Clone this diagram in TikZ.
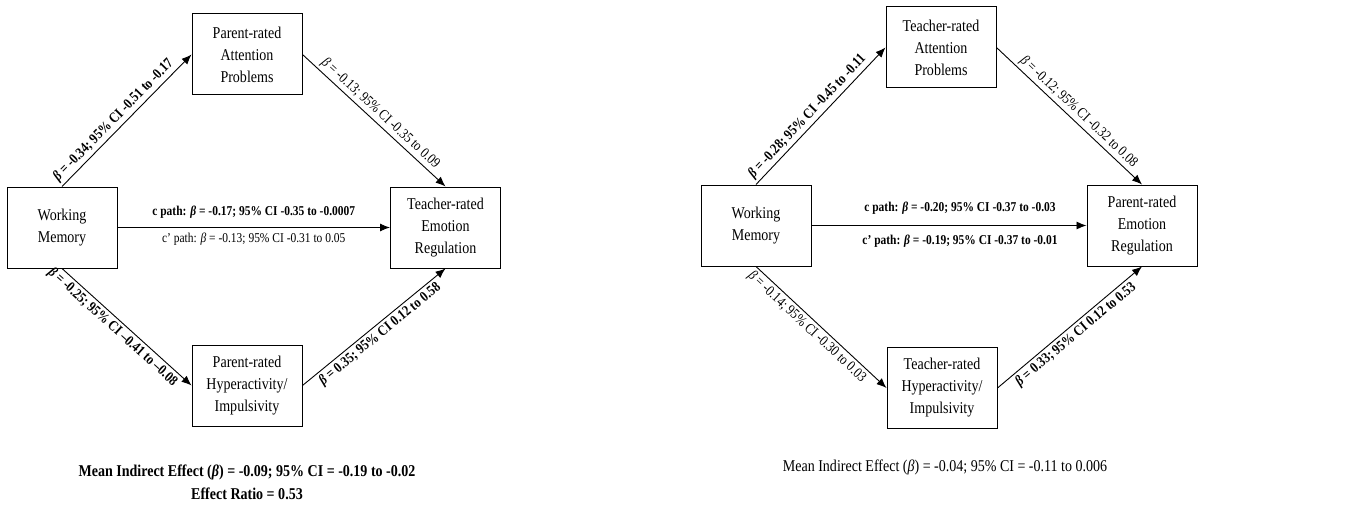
\documentclass[tikz,border=0pt]{standalone}
\usepackage{fontspec}
\setmainfont{Liberation Serif}[FakeStretch=0.85]
\usetikzlibrary{arrows.meta,positioning}

\newcommand{\bt}{\textit{β}}

\begin{document}
\begin{tikzpicture}[x=1pt,y=1pt,on grid,
  box/.style={draw,line width=1pt,minimum width=110pt,minimum height=81pt,align=center,
    font=\fontsize{16.5}{22}\selectfont},
  link/.style={-{Latex[length=10pt,width=8pt]},line width=0.9pt},
  lab/.style={font=\fontsize{14.5}{16}\selectfont,sloped,inner sep=2.5pt},
  hlab/.style={font=\fontsize{13.5}{15}\selectfont,inner sep=0pt},
  note/.style={font=\fontsize{16.5}{22}\selectfont,align=center}]
\useasboundingbox (0,0) rectangle (1360,-508);

% left model
\node[box] (wmL) at (62,-227.5) {Working\\Memory};
\node[box] (paL) [above right=173pt and 185pt of wmL] {Parent-rated\\Attention\\Problems};
\node[box] (terL) [right=383.5pt of wmL] {Teacher-rated\\Emotion\\Regulation};
\node[box] (phL) [below right=158pt and 185pt of wmL] {Parent-rated\\Hyperactivity/\\Impulsivity};
\path[link]
(wmL.north) edge node[lab,above,pos=0.45] {\bfseries\bt\ = -0.34; 95\% CI -0.51 to -0.17} (paL.west)
(paL.east) edge node[lab,above,pos=0.5] {\bt\ = -0.13; 95\% CI -0.35 to 0.09} (terL.north)
(wmL.east) edge node[hlab,above=9pt,midway] {\bfseries c path: \bt\ = -0.17; 95\% CI -0.35 to -0.0007}
                node[hlab,below=5pt,midway] {c’ path: \bt\ = -0.13; 95\% CI -0.31 to 0.05} (terL.west)
(wmL.south) edge node[lab,below,pos=0.44] {\bfseries\bt\ = -0.25; 95\% CI –0.41 to –0.08} (phL.west)
(phL.east) edge node[lab,below,pos=0.5] {\bfseries\bt\ = 0.35; 95\% CI 0.12 to 0.58} (terL.south);
\node[note] (sumL) at (247,-472) {\bfseries Mean Indirect Effect (\bt) = -0.09; 95\% CI = -0.19 to -0.02};
\node[note] (ratioL) [below=22pt of sumL] {\bfseries Effect Ratio = 0.53};

% right model
\node[box] (wmR) at (756,-225.5) {Working\\Memory};
\node[box] (taR) [above right=178pt and 185pt of wmR] {Teacher-rated\\Attention\\Problems};
\node[box] (perR) [right=386pt of wmR] {Parent-rated\\Emotion\\Regulation};
\node[box] (thR) [below right=162.5pt and 186pt of wmR] {Teacher-rated\\Hyperactivity/\\Impulsivity};
\path[link]
(wmR.north) edge node[lab,above,pos=0.45] {\bfseries\bt\ = -0.28; 95\% CI -0.45 to -0.11} (taR.west)
(taR.east) edge node[lab,above,pos=0.52] {\bt\ = -0.12; 95\% CI -0.32 to 0.08} (perR.north)
(wmR.east) edge node[hlab,above=11pt,pos=0.54] {\bfseries c path: \bt\ = -0.20; 95\% CI -0.37 to -0.03}
                node[hlab,below=9pt,pos=0.54] {\bfseries c’ path: \bt\ = -0.19; 95\% CI -0.37 to -0.01} (perR.west)
(wmR.south) edge node[lab,below,pos=0.44] {\bt\ = -0.14; 95\% CI -0.30 to 0.03} (thR.west)
(thR.east) edge node[lab,below,pos=0.5] {\bfseries\bt\ = 0.33; 95\% CI 0.12 to 0.53} (perR.south);
\node[note] (sumR) at (945,-467) {Mean Indirect Effect (\bt) = -0.04; 95\% CI = -0.11 to 0.006};
\end{tikzpicture}
\end{document}
